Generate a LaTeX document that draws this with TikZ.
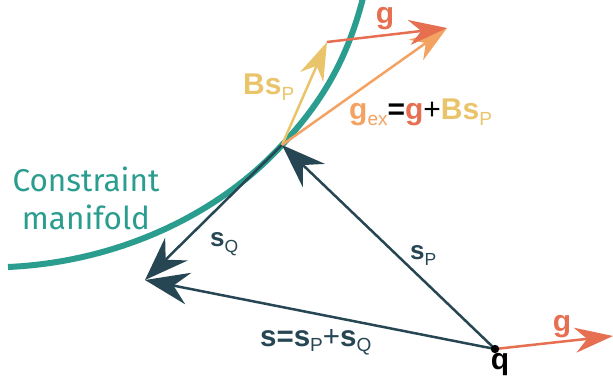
\documentclass[tikz,border=0pt]{standalone}
\usepackage{fontspec}
\setmainfont{Liberation Sans}
\newfontfamily\firafont{Fira Sans}
\usetikzlibrary{arrows.meta}
\definecolor{cteal}{HTML}{2A9D8F}
\definecolor{cdark}{HTML}{264653}
\definecolor{cyel}{HTML}{E9C46A}
\definecolor{corg}{HTML}{F4A261}
\definecolor{cred}{HTML}{E76F51}
\newcommand\subtx[1]{\raisebox{-0.2em}{\fontsize{19}{19}\selectfont\mdseries #1}}
\newcommand\subsm[1]{\raisebox{-0.2em}{\fontsize{17.5}{17.5}\selectfont\mdseries #1}}
\begin{document}
\begin{tikzpicture}[x=1pt,y=-1pt,
  darkarr/.style={draw=cdark, line width=2.5pt, -{Stealth[length=44pt,width=32pt,inset=15pt]}},
  lightarr/.style={line width=2.5pt, -{Stealth[length=38pt,width=25pt,inset=12pt]}},
  biglbl/.style={font=\fontsize{30}{30}\selectfont\bfseries, inner sep=0pt},
  darklbl/.style={font=\fontsize{26}{26}\selectfont\bfseries, inner sep=0pt, text=cdark},
  sumlbl/.style={font=\fontsize{29.5}{29.5}\selectfont\bfseries, inner sep=0pt, text=cdark},
  maniflbl/.style={font=\firafont\fontsize{31.5}{38}\selectfont, text=cteal, align=center, inner sep=0pt}]
\useasboundingbox (0,0) rectangle (613,387);
\coordinate (P) at (282,145);
\coordinate (Q) at (145,280);
\coordinate (q) at (495,349);
\coordinate (B) at (327,42);
\coordinate (G) at (447,28);
\coordinate (gq) at (613,336);
\coordinate (m0) at (8,267);
\coordinate (m1) at (363,-2);
% manifold
\draw[cteal, line width=6pt] (m0) .. controls (120,262) and (220,213) .. (P)
  .. controls (322,102) and (347,60) .. (m1);
% dark arrows
\draw[darkarr] (q) -- (P);
\draw[darkarr] (P) -- (Q);
\draw[darkarr] (q) -- (Q);
% light arrows
\draw[lightarr, cyel] (P) -- (B);
\draw[lightarr, corg] (P) -- (G);
\draw[lightarr, cred] (B) -- (G);
\draw[lightarr, cred] (q) -- (gq);
\fill[black] (q) circle (4.2pt);
% labels
\node[maniflbl] (man) at (86,198) {Constraint\\manifold};
\node[biglbl, text=cred, anchor=base, text height=15pt, text depth=7pt] (lg) at (385,24) {g};
\node[biglbl, text=cyel, anchor=base west] (lbs) at (243,95) {Bs\subtx{P}};
\node[biglbl, anchor=base west] (lgex) at (349,120) {\textcolor{corg}{g\subtx{ex}}=\textcolor{cred}{g}{\mdseries+}\textcolor{cyel}{Bs\subtx{P}}};
\node[biglbl, text=cred, anchor=base] (lg2) at (562,331) {g};
\node[biglbl, text=black, anchor=base] (lq) at (500,369) {q};
\node[darklbl, anchor=base west] (lsq) at (210,247) {s\subsm{Q}};
\node[darklbl, anchor=base west] (lsp) at (410,260) {s\subsm{P}};
\node[sumlbl, anchor=base west] (ls) at (260,346) {s=s\subtx{P}{\mdseries+}s\subtx{Q}};
\end{tikzpicture}
\end{document}
